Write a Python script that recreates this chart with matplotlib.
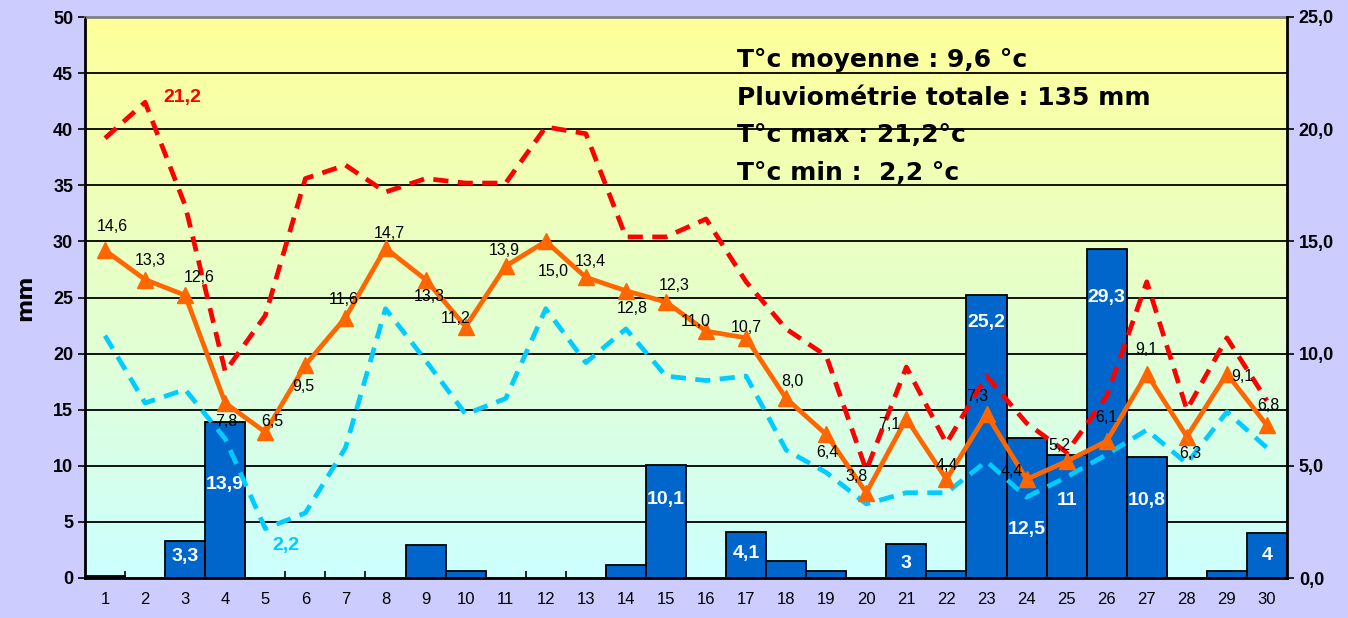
import numpy as np
import matplotlib

matplotlib.use("Agg")
import matplotlib.pyplot as plt
from matplotlib.colors import LinearSegmentedColormap

# --- données du mois ---
days = list(range(1, 31))

rain_mm = [0.2, 0, 3.3, 13.9, 0, 0, 0, 0, 2.9, 0.6,
           0, 0, 0, 1.2, 10.1, 0, 4.1, 1.5, 0.6, 0,
           3.0, 0.6, 25.2, 12.5, 11.0, 29.3, 10.8, 0, 0.6, 4.0]
rain_labels = ["", "", "3,3", "13,9", "", "", "", "", "", "",
               "", "", "", "", "10,1", "", "4,1", "", "", "",
               "3", "", "25,2", "12,5", "11", "29,3", "10,8", "", "", "4"]

t_mean = [14.6, 13.3, 12.6, 7.8, 6.5, 9.5, 11.6, 14.7, 13.3, 11.2,
          13.9, 15.0, 13.4, 12.8, 12.3, 11.0, 10.7, 8.0, 6.4, 3.8,
          7.1, 4.4, 7.3, 4.4, 5.2, 6.1, 9.1, 6.3, 9.1, 6.8]
t_max = [19.6, 21.2, 16.6, 9.2, 11.7, 17.8, 18.4, 17.2, 17.8, 17.6,
         17.6, 20.1, 19.8, 15.2, 15.2, 16.0, 13.2, 11.1, 9.9, 4.8,
         9.4, 6.0, 9.0, 6.9, 5.6, 8.1, 13.2, 7.5, 10.7, 7.9]
t_min = [10.8, 7.8, 8.4, 6.2, 2.2, 2.9, 5.8, 12.0, 9.7, 7.3,
         8.0, 12.0, 9.6, 11.1, 9.0, 8.8, 9.0, 5.7, 4.7, 3.3,
         3.8, 3.8, 5.2, 3.6, 4.5, 5.5, 6.6, 5.1, 7.4, 5.8]

summary_lines = [
    "T°c moyenne : 9,6 °c",
    "Pluviométrie totale : 135 mm",
    "T°c max : 21,2°c",
    "T°c min :  2,2 °c",
]

# positions des étiquettes (placement à la main, comme dans l'original)
bar_label_y = [0, 0, 1.9, 8.3, 0, 0, 0, 0, 0, 0,
               0, 0, 0, 0, 7.0, 0, 2.2, 0, 0, 0,
               1.3, 0, 22.8, 4.3, 6.9, 25.0, 6.9, 0, 0, 2.0]
mean_label_off = [(7, 24), (5, 19), (14, 18), (1, -19), (7, 11), (-2, -22), (-2, 18), (4, 15), (4, -17), (-10, 8),
                  (-1, 16), (7, -30), (4, 16), (6, -18), (8, 16), (-10, 10), (0, 10), (6, 17), (1, -18), (-10, 16),
                  (-17, -6), (0, 14), (-9, 18), (-15, 8), (-7, 16), (0, 24), (0, 24), (3, -17), (15, -3), (1, 20)]


def fmt_fr(v: float) -> str:
    return f"{v:.1f}".replace(".", ",")


def main():
    plt.rcParams.update({
        "font.family": ["Liberation Sans", "DejaVu Sans"],
        "font.size": 12,
    })

    fig = plt.figure(figsize=(13.48, 6.18), dpi=100, facecolor="#CCCCFF")
    ax = fig.add_axes([85 / 1348, 40 / 618, 1202 / 1348, 561 / 618])
    x = np.array(days)

    # fond dégradé jaune -> cyan
    cmap = LinearSegmentedColormap.from_list("bg", ["#CCFFFF", "#FFFF99"])
    grad = np.linspace(0, 1, 256).reshape(-1, 1)
    ax.imshow(grad, cmap=cmap, aspect="auto", origin="lower",
              extent=(0.5, 30.5, 0, 50), zorder=0)

    ax.set_xlim(0.5, 30.5)
    ax.set_ylim(0, 50)
    ax.set_yticks(range(0, 51, 5))
    for yv in range(5, 50, 5):
        ax.axhline(yv, color="black", lw=1.3, zorder=1)

    ax.bar(x, rain_mm, width=1.0, color="#0066CC", edgecolor="black",
           linewidth=1.3, zorder=2)
    for xi, lab, ly in zip(x, rain_labels, bar_label_y):
        if lab:
            ax.text(xi, ly, lab, color="white", fontsize=14, fontweight="bold",
                    ha="center", va="center", zorder=3)

    ax.set_ylabel("mm", fontsize=16, fontweight="bold", family="DejaVu Sans",
                  labelpad=13)
    ax.set_xticks(days)
    ax.set_xticks(np.arange(1.5, 30.5, 1), minor=True)
    ax.tick_params(axis="x", which="major", length=0, pad=10, labelsize=12)
    ax.tick_params(axis="x", which="minor", length=5, width=1.2, direction="in")
    ax.tick_params(axis="y", length=5, width=1.2, labelsize=13)
    for t in ax.get_yticklabels():
        t.set_fontweight("bold")

    for side in ["left", "bottom"]:
        ax.spines[side].set_linewidth(2)
    ax.spines["top"].set_color("#808080")
    ax.spines["top"].set_linewidth(2)

    # axe de droite : températures
    ax2 = ax.twinx()
    ax2.set_ylim(0, 25)
    ax2.set_yticks(range(0, 26, 5))
    ax2.set_yticklabels([fmt_fr(v) for v in range(0, 26, 5)])
    ax2.tick_params(axis="y", length=5, width=1.2, labelsize=13)
    for t in ax2.get_yticklabels():
        t.set_fontweight("bold")
    ax2.spines["right"].set_linewidth(2)
    ax2.spines["top"].set_visible(False)

    ax2.plot(x, t_max, color="#FF0000", lw=3.4, dashes=(3.2, 2.0), zorder=3)
    ax2.plot(x, t_min, color="#00CCFF", lw=3.4, dashes=(3.2, 2.0), zorder=3)
    ax2.plot(x, t_mean, color="#FF6600", lw=3.4, marker="^", markersize=12,
             zorder=4)

    for xi, v, (dx, dy) in zip(x, t_mean, mean_label_off):
        ax2.annotate(fmt_fr(v), (xi, v), xytext=(dx, dy), textcoords="offset pixels",
                     ha="center", va="center", fontsize=11.5, color="black", zorder=5)

    i_max = int(np.argmax(t_max))
    ax2.annotate(fmt_fr(t_max[i_max]), (x[i_max], t_max[i_max]), xytext=(37, 5),
                 textcoords="offset pixels", ha="center", va="center",
                 fontsize=14, fontweight="bold", color="#FF0000")
    i_min = int(np.argmin(t_min))
    ax2.annotate(fmt_fr(t_min[i_min]), (x[i_min], t_min[i_min]), xytext=(21, -17),
                 textcoords="offset pixels", ha="center", va="center",
                 fontsize=14, fontweight="bold", color="#00CCFF")

    # encadré résumé
    for i, line in enumerate(summary_lines):
        ax2.text(0.5424, 0.911 - i * 0.0673, line, transform=ax2.transAxes,
                 fontsize=18, fontweight="bold", family="DejaVu Sans",
                 ha="left", va="baseline", zorder=6)

    fig.savefig("out.png", dpi=100, facecolor=fig.get_facecolor())
    plt.close(fig)


if __name__ == "__main__":
    main()
